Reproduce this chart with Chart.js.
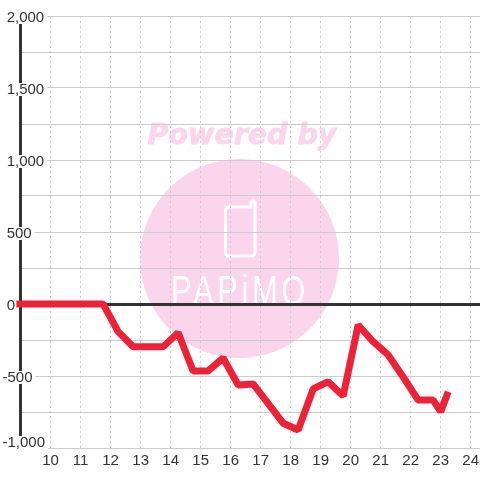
<!DOCTYPE html>
<html>
<head>
<meta charset="utf-8">
<script src="https://cdn.jsdelivr.net/npm/chart.js@4/dist/chart.umd.min.js"></script>
<style>
  html, body { margin: 0; padding: 0; background: #fff; }
  #wrap { width: 480px; height: 480px; }
</style>
</head>
<body>
<div id="wrap"><canvas id="chart"></canvas></div>
<script>
const xValues = [8.86, 11.75, 12.25, 12.75, 13.75, 14.25, 14.75, 15.25, 15.75, 16.25, 16.75, 17.75, 18.25, 18.75, 19.25, 19.75, 20.25, 20.75, 21.25, 21.75, 22.25, 22.75, 23, 23.25];
const yValues = [0, 0, -192, -297, -297, -200, -465, -465, -375, -562, -555, -828, -875, -590, -540, -639, -146, -262, -354, -507, -667, -667, -748, -609];
const xTicks = [10, 11, 12, 13, 14, 15, 16, 17, 18, 19, 20, 21, 22, 23, 24];
const yTicks = [-1000, -750, -500, -250, 0, 250, 500, 750, 1000, 1250, 1500, 1750, 2000];

// watermark sits behind the grid
const watermark = {
    id: 'watermark',
    beforeDraw(chart) {
        // bottom label sits above its grid line, not centred on it
        const items = chart.scales.y.getLabelItems();
        if (!items.moved) {
            items[0].options.translation[1] -= 7;
            items.moved = true;
        }

        const c = chart.ctx;
        c.save();
        c.fillStyle = '#fbd5ec';
        c.beginPath();
        c.arc(239.5, 258.5, 99.5, 0, Math.PI * 2);
        c.fill();

        c.font = 'italic bold 28.5px "DejaVu Sans"';
        c.textAlign = 'center';
        c.textBaseline = 'alphabetic';
        c.strokeStyle = '#fbd5ec';
        c.lineWidth = 0.8;
        c.fillText('Powered by', 242, 144);
        c.strokeText('Powered by', 242, 144);

        // phone icon
        c.strokeStyle = '#fff';
        c.lineWidth = 3;
        c.beginPath();
        c.moveTo(252, 207);
        c.lineTo(230, 207);
        c.quadraticCurveTo(225.5, 207, 225.5, 211);
        c.lineTo(225.5, 252);
        c.quadraticCurveTo(225.5, 256, 230, 256);
        c.lineTo(251, 256);
        c.quadraticCurveTo(255, 256, 255, 252);
        c.lineTo(255, 203);
        c.arc(253, 203, 2, 0, Math.PI, true);
        c.lineTo(251, 207);
        c.stroke();

        c.fillStyle = '#fff';
        c.font = '43px "Liberation Sans"';
        c.textAlign = 'center';
        c.save();
        c.translate(240, 305);
        c.scale(0.72, 1);
        c.letterSpacing = '5px';
        c.fillText('PAPiMO', 0, 0);
        c.restore();
        c.restore();
    }
};

new Chart(document.getElementById('chart'), {
    type: 'line',
    data: {
        datasets: [{
            data: xValues.map((x, i) => ({ x: x, y: yValues[i] })),
            borderColor: '#ee2236',
            borderWidth: 7,
            borderJoinStyle: 'bevel',
            pointRadius: 0,
            tension: 0,
            clip: false
        }]
    },
    options: {
        responsive: true,
        maintainAspectRatio: false,
        animation: false,
        layout: { padding: { top: 16 } },
        plugins: { legend: { display: false }, tooltip: { enabled: false } },
        scales: {
            x: {
                type: 'linear',
                min: 8.98,
                max: 24.31,
                afterBuildTicks: scale => { scale.ticks = xTicks.map(v => ({ value: v })); },
                afterFit: scale => {
                    scale.height = 32;
                    scale.paddingLeft = 0;
                    scale.paddingRight = 0;
                },
                grid: { color: '#cccccc', lineWidth: 1, tickLength: 0 },
                border: { display: false, dash: [2, 3] },
                ticks: {
                    color: '#333',
                    font: { family: '"Liberation Sans"', size: 15 },
                    padding: 4,
                    maxRotation: 0,
                    autoSkip: false,
                    callback: v => v
                }
            },
            y: {
                min: -1000,
                max: 2000,
                afterBuildTicks: scale => { scale.ticks = yTicks.map(v => ({ value: v })); },
                afterFit: scale => {
                    scale.width = 20;
                    scale.paddingTop = 0;
                    scale.paddingBottom = 0;
                },
                grid: {
                    color: ctx => ctx.tick.value === 0 ? '#333333' : '#cccccc',
                    lineWidth: ctx => ctx.tick.value === 0 ? 3 : 1,
                    tickLength: 0
                },
                border: { display: true, color: '#333333', width: 3 },
                ticks: {
                    color: '#333',
                    font: { family: '"Liberation Sans"', size: 15 },
                    mirror: true,
                    padding: -17.5,
                    labelOffset: 1.5,
                    showLabelBackdrop: ctx => ctx.tick.value % 500 === 0,
                    backdropColor: '#ffffff',
                    backdropPadding: { left: 0, right: 3, top: -2.5, bottom: -2.5 },
                    autoSkip: false,
                    // nbsp keeps the digits lined up, the minus hangs to the left
                    callback: v => v % 500 !== 0 ? '' : (v < 0 ? '' : '\u00a0') + v.toLocaleString('en-US')
                }
            }
        }
    },
    plugins: [watermark]
});
</script>
</body>
</html>
